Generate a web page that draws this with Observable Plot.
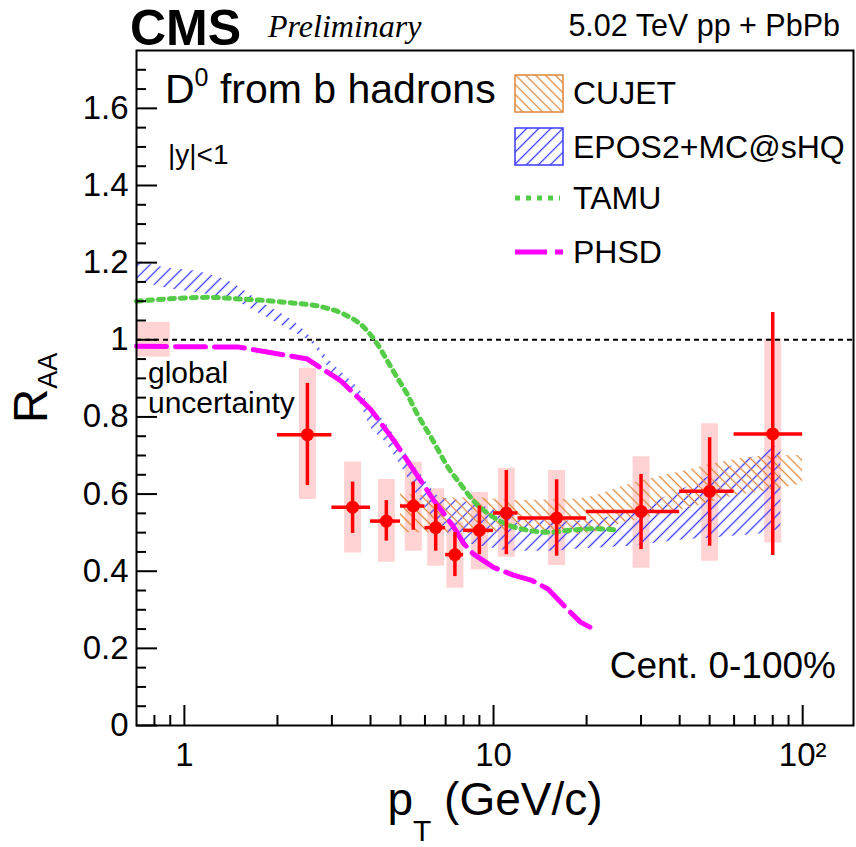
<!DOCTYPE html>
<html>
<head>
<meta charset="utf-8">
<script src="https://cdn.jsdelivr.net/npm/d3@7"></script>
<script src="https://cdn.jsdelivr.net/npm/@observablehq/plot@0.6"></script>
<style>
  body { margin: 0; background: #fff; }
  #wrap { position: relative; width: 856px; height: 847px; overflow: hidden;
          font-family: "Liberation Sans", Arial, sans-serif; color: #000; background: #fff; }
  .t { position: absolute; white-space: nowrap; line-height: 1; }
  #chart { position: absolute; left: 0; top: 0; }
  #legend { position: absolute; left: 0; top: 0; pointer-events: none; }
</style>
</head>
<body>
<div id="wrap">
  <svg width="0" height="0" style="position:absolute">
    <defs>
      <pattern id="hatchBlue" patternUnits="userSpaceOnUse" width="8.5" height="8.5" patternTransform="rotate(45)">
        <line x1="4.25" y1="0" x2="4.25" y2="8.5" stroke="#3a3aff" stroke-width="1.3"/>
      </pattern>
      <pattern id="hatchOrange" patternUnits="userSpaceOnUse" width="7" height="7" patternTransform="rotate(-45)">
        <line x1="3.5" y1="0" x2="3.5" y2="7" stroke="#e0873a" stroke-width="1.3"/>
      </pattern>
    </defs>
  </svg>
  <div id="chart"></div>
  <svg id="legend" width="856" height="847">
    <rect x="515" y="75" width="48" height="37" fill="url(#hatchOrange)" stroke="#e0873a" stroke-width="1.5"/>
    <rect x="515" y="128" width="48" height="37" fill="url(#hatchBlue)" stroke="#3a3aff" stroke-width="1.5"/>
    <line x1="515" y1="198" x2="560" y2="198" stroke="#55cc47" stroke-width="5" stroke-dasharray="5,6"/>
    <line x1="515" y1="252" x2="563" y2="252" stroke="#ff00ff" stroke-width="5" stroke-dasharray="32,8"/>
  </svg>

  <div class="t" style="left:130px; top:3px; font-size:50px; font-weight:bold;">CMS</div>
  <div class="t" style="left:268px; top:10px; font-size:32px; font-style:italic; font-family:'Liberation Serif','Times New Roman',serif;">Preliminary</div>
  <div class="t" style="right:16px; top:10px; font-size:30.5px;">5.02 TeV pp + PbPb</div>

  <div class="t" style="left:165px; top:69px; font-size:41px;">D<span style="font-size:25px; position:relative; top:-17px;">0</span> from b hadrons</div>
  <div class="t" style="left:168px; top:141px; font-size:28px;">|y|&lt;1</div>
  <div class="t" style="left:148px; top:358px; font-size:30px;">global</div>
  <div class="t" style="left:148px; top:388px; font-size:30px;">uncertainty</div>
  <div class="t" style="right:20px; top:647px; font-size:37px;">Cent. 0-100%</div>

  <div class="t" style="left:573px; top:77px; font-size:32px;">CUJET</div>
  <div class="t" style="left:573px; top:131px; font-size:32px;">EPOS2+MC@sHQ</div>
  <div class="t" style="left:573px; top:182px; font-size:32px;">TAMU</div>
  <div class="t" style="left:573px; top:236px; font-size:32px;">PHSD</div>

  <div class="t" style="left:31px; top:388px; transform:translate(-50%,-50%) rotate(-90deg); font-size:48px;">R<span style="font-size:27px; position:relative; top:10px;">AA</span></div>
  <div class="t" style="left:495px; top:782px; line-height:0.75; transform:translateX(-50%); font-size:46px;">p<span style="font-size:30px; position:relative; top:26px;">T</span> (GeV/c)</div>
</div>

<script>
// ---------------- data ----------------
// D0 from b hadrons, measured points
const ptCenter = [2.5, 3.5, 4.5, 5.5, 6.5, 7.5, 9, 11, 16, 30, 50, 80];
const ptLow    = [2, 3, 4, 5, 6, 7, 8, 10, 12, 20, 40, 60];
const ptHigh   = [3, 4, 5, 6, 7, 8, 10, 12, 20, 40, 60, 100];
const raa      = [0.754, 0.566, 0.530, 0.569, 0.513, 0.443, 0.506, 0.551, 0.538, 0.555, 0.607, 0.756];
const statLo   = [0.622, 0.498, 0.478, 0.506, 0.452, 0.386, 0.443, 0.443, 0.439, 0.456, 0.465, 0.441];
const statHi   = [0.887, 0.631, 0.583, 0.631, 0.573, 0.500, 0.569, 0.661, 0.637, 0.651, 0.746, 1.071];
const sysLo    = [0.586, 0.447, 0.423, 0.452, 0.413, 0.356, 0.404, 0.436, 0.415, 0.408, 0.426, 0.473];
const sysHi    = [0.926, 0.683, 0.638, 0.683, 0.614, 0.527, 0.604, 0.667, 0.661, 0.697, 0.782, 1.003];

// global uncertainty box
const globalPt  = [0.7, 0.9];
const globalRaa = [0.955, 1.045];

// EPOS2+MC@sHQ band
const eposPt = [0.7, 0.85, 1.13, 1.41, 1.8, 2.3, 2.56, 3.0, 3.36, 3.7, 4.0, 4.42, 5.12, 5.8, 6.74, 7.8, 9.5, 12.2, 15.6, 19, 27.8, 40, 58, 77, 85];
const eposLo = [1.155, 1.136, 1.12, 1.106, 1.063, 1.016, 0.994, 0.915, 0.869, 0.835, 0.774, 0.739, 0.661, 0.583, 0.514, 0.48, 0.462, 0.452, 0.452, 0.458, 0.465, 0.48, 0.49, 0.50, 0.51];
const eposHi = [1.205, 1.188, 1.175, 1.149, 1.094, 1.042, 1.007, 0.94, 0.903, 0.869, 0.825, 0.79, 0.713, 0.653, 0.592, 0.583, 0.566, 0.54, 0.53, 0.53, 0.557, 0.609, 0.67, 0.713, 0.73];

// CUJET band
const cujetPt = [5, 6, 7, 9, 11.6, 15, 19, 27.8, 40, 58, 85, 100];
const cujetLo = [0.50, 0.50, 0.50, 0.497, 0.506, 0.50, 0.495, 0.53, 0.557, 0.592, 0.614, 0.627];
const cujetHi = [0.60, 0.595, 0.59, 0.59, 0.583, 0.585, 0.588, 0.627, 0.657, 0.687, 0.70, 0.70];

// TAMU curve
const tamuPt  = [0.7, 1.2, 1.5, 2.2, 2.76, 3.27, 3.8, 4.2, 4.53, 4.87, 5.25, 5.66, 6.25, 7.24, 7.8, 8.6, 10, 11.7, 15.3, 17, 21.7, 24.8];
const tamuRaa = [1.10, 1.11, 1.106, 1.096, 1.086, 1.067, 1.033, 0.99, 0.946, 0.903, 0.86, 0.808, 0.75, 0.661, 0.627, 0.583, 0.54, 0.514, 0.501, 0.505, 0.51, 0.507];

// PHSD curve
const phsdPt  = [0.7, 1.5, 2.5, 2.69, 3.2, 4.0, 4.76, 5.53, 6.42, 7.44, 8.02, 8.6, 10, 11.6, 13.3, 15, 17.3, 19.1, 20.5];
const phsdRaa = [0.983, 0.981, 0.95, 0.933, 0.894, 0.82, 0.739, 0.661, 0.583, 0.514, 0.471, 0.445, 0.41, 0.39, 0.376, 0.354, 0.302, 0.268, 0.255];

// ticks
const yMajor = [0, 0.2, 0.4, 0.6, 0.8, 1.0, 1.2, 1.4, 1.6];
const yMinor = [0.05,0.1,0.15,0.25,0.3,0.35,0.45,0.5,0.55,0.65,0.7,0.75,0.85,0.9,0.95,1.05,1.1,1.15,1.25,1.3,1.35,1.45,1.5,1.55,1.65,1.7];
const xMajor = [1, 10, 100];
const xMinor = [0.8, 0.9, 2, 3, 4, 5, 6, 7, 8, 9, 20, 30, 40, 50, 60, 70, 80, 90];
const xLabels = ["1", "10", "10²"];

// ---------------- chart ----------------
const W = 856, H = 847;
const mL = 136, mR = 3, mT = 50, mB = 122;
const plotW = W - mL - mR, plotH = H - mT - mB;
const red = "#ff0000", pink = "#ffd3d3", green = "#55cc47", magenta = "#ff00ff";

const points = ptCenter.map((x, i) => ({x, lo: ptLow[i], hi: ptHigh[i], y: raa[i], sl: statLo[i], sh: statHi[i], yl: sysLo[i], yh: sysHi[i]}));
const globalBox = [{x1: globalPt[0], x2: globalPt[1], y1: globalRaa[0], y2: globalRaa[1]}];
const epos = eposPt.map((x, i) => ({x, lo: eposLo[i], hi: eposHi[i]}));
const cujet = cujetPt.map((x, i) => ({x, lo: cujetLo[i], hi: cujetHi[i]}));
const tamu = tamuPt.map((x, i) => ({x, y: tamuRaa[i]}));
const phsd = phsdPt.map((x, i) => ({x, y: phsdRaa[i]}));

const chart = Plot.plot({
  width: W, height: H,
  marginLeft: mL, marginRight: mR, marginTop: mT, marginBottom: mB,
  style: {fontFamily: "Liberation Sans, Arial, sans-serif", fontSize: "33px", background: "transparent", color: "black"},
  x: {type: "log", domain: [0.7, 146]},
  y: {domain: [0, 1.75]},
  marks: [
    Plot.rect(globalBox, {x1: "x1", x2: "x2", y1: "y1", y2: "y2", fill: pink}),
    Plot.ruleX(points, {x: "x", y1: "yl", y2: "yh", stroke: pink, strokeWidth: 17}),
    Plot.areaY(epos, {x: "x", y1: "lo", y2: "hi", fill: "url(#hatchBlue)", curve: "monotone-x"}),
    Plot.areaY(cujet, {x: "x", y1: "lo", y2: "hi", fill: "url(#hatchOrange)", curve: "monotone-x"}),
    Plot.ruleY([1], {stroke: "black", strokeWidth: 2, strokeDasharray: "5,4"}),
    Plot.line(tamu, {x: "x", y: "y", stroke: green, strokeWidth: 5, strokeDasharray: "5,6", curve: "monotone-x"}),
    Plot.line(phsd, {x: "x", y: "y", stroke: magenta, strokeWidth: 5, strokeDasharray: "30,9"}),
    Plot.ruleY(points, {y: "y", x1: "lo", x2: "hi", stroke: red, strokeWidth: 3.5}),
    Plot.ruleX(points, {x: "x", y1: "sl", y2: "sh", stroke: red, strokeWidth: 3.5}),
    Plot.dot(points, {x: "x", y: "y", r: 6.5, fill: red}),
    Plot.tickY(yMajor, {y: d => d, insetRight: plotW - 21, stroke: "black", strokeWidth: 2}),
    Plot.tickY(yMinor, {y: d => d, insetRight: plotW - 10, stroke: "black", strokeWidth: 2}),
    Plot.tickX(xMajor, {x: d => d, insetTop: plotH - 20, stroke: "black", strokeWidth: 2}),
    Plot.tickX(xMinor, {x: d => d, insetTop: plotH - 10, stroke: "black", strokeWidth: 2}),
    Plot.axisY(yMajor, {tickSize: 0, tickPadding: 8, label: null, fontSize: 33,
      tickFormat: d => String(+d.toFixed(1))}),
    Plot.axisX(xMajor, {tickSize: 0, tickPadding: 17, label: null, fontSize: 33,
      tickFormat: d => xLabels[xMajor.indexOf(d)]}),
    Plot.frame({stroke: "black", strokeWidth: 2})
  ]
});
document.getElementById("chart").appendChild(chart);
</script>
</body>
</html>
